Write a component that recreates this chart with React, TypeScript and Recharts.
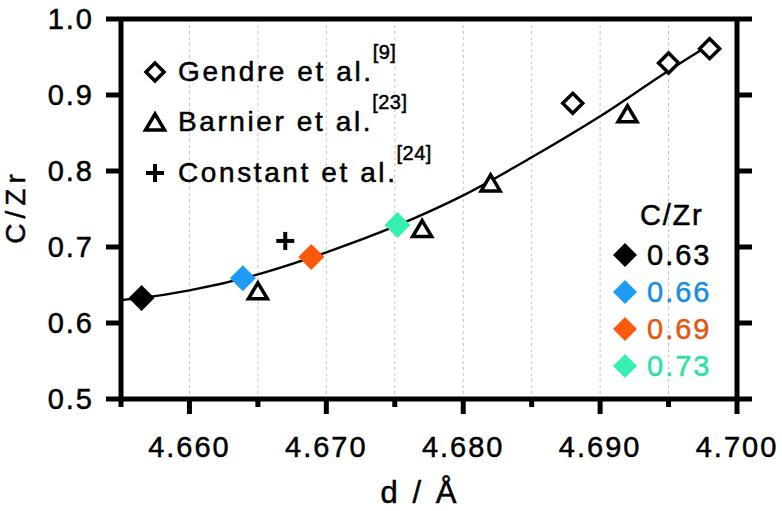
import React from 'react'
import { ComposedChart, Line, Scatter, XAxis, YAxis, CartesianGrid } from 'recharts'

// fitted curve
const fitD = [4.655, 4.6565, 4.66, 4.665, 4.67, 4.675, 4.68, 4.685, 4.69, 4.695, 4.698]
const fitCZr = [0.63, 0.633, 0.643, 0.664, 0.693, 0.727, 0.768, 0.818, 0.872, 0.932, 0.966]

// this work, one point per C/Zr
const sampleD = [4.6565, 4.6639, 4.6689, 4.6752]
const sampleCZr = [0.633, 0.659, 0.687, 0.729]
const sampleLabels = ['0.63', '0.66', '0.69', '0.73']

// literature
const gendreD = [4.688, 4.695, 4.698]
const gendreCZr = [0.889, 0.942, 0.961]
const barnierD = [4.665, 4.677, 4.682, 4.692]
const barnierCZr = [0.641, 0.723, 0.783, 0.874]
const constantD = [4.667]
const constantCZr = [0.708]

const xTicks = [4.655, 4.66, 4.665, 4.67, 4.675, 4.68, 4.685, 4.69, 4.695, 4.7]
const yTicks = [0.5, 0.6, 0.7, 0.8, 0.9, 1.0]

const sampleColors = ['#000000', '#1f9bf3', '#fb5a0c', '#36efb3']
const sampleTextColors = ['#000000', '#1a8ce6', '#e6560f', '#2fe0a6']

const FONT = '"Liberation Sans", Arial, Helvetica, sans-serif'
const AXIS_W = 5
const heavy = { WebkitTextStroke: '0.5px currentColor' } as React.CSSProperties

const rows = (xs: number[], ys: number[]) => xs.map((x, i) => ({ x, y: ys[i] }))
const isMajorX = (v: number) => Math.round(v * 1000) % 10 === 0

function BottomTick(props: any) {
  const { x, y, payload } = props
  const major = isMajorX(payload.value)
  return (
    <g>
      <line x1={x} x2={x} y1={y} y2={y + (major ? 15 : 8)} stroke="#000" strokeWidth={AXIS_W} />
      {major && (
        <text x={x} y={y + 58} textAnchor="middle" fontSize={29} fontFamily={FONT} letterSpacing={2} fill="#000" stroke="#000" strokeWidth={0.5}>
          {payload.value.toFixed(3)}
        </text>
      )}
    </g>
  )
}

function TopTick(props: any) {
  const { x, y, payload } = props
  const major = isMajorX(payload.value)
  return <line x1={x} x2={x} y1={y} y2={y - (major ? 15 : 8)} stroke="#000" strokeWidth={AXIS_W} />
}

function LeftTick(props: any) {
  const { x, y, payload } = props
  return (
    <g>
      <line x1={x} x2={x - 15} y1={y} y2={y} stroke="#000" strokeWidth={AXIS_W} />
      <text x={x - 27} y={y} dy="0.36em" textAnchor="end" fontSize={29} fontFamily={FONT} letterSpacing={2} fill="#000" stroke="#000" strokeWidth={0.5}>
        {payload.value.toFixed(1)}
      </text>
    </g>
  )
}

function RightTick(props: any) {
  const { x, y } = props
  return <line x1={x} x2={x + 15} y1={y} y2={y} stroke="#000" strokeWidth={AXIS_W} />
}

function FilledDiamond({ cx, cy, fill, r = 13 }: any) {
  return <polygon points={`${cx},${cy - r} ${cx + r},${cy} ${cx},${cy + r} ${cx - r},${cy}`} fill={fill} />
}

function OpenDiamond({ cx, cy, r = 10 }: any) {
  return (
    <polygon
      points={`${cx},${cy - r} ${cx + r},${cy} ${cx},${cy + r} ${cx - r},${cy}`}
      fill="#fff"
      stroke="#000"
      strokeWidth={3.5}
    />
  )
}

function OpenTriangle({ cx, cy }: any) {
  return (
    <polygon
      points={`${cx},${cy - 9} ${cx + 9.5},${cy + 7} ${cx - 9.5},${cy + 7}`}
      fill="#fff"
      stroke="#000"
      strokeWidth={3.5}
      strokeLinejoin="miter"
    />
  )
}

function Plus({ cx, cy }: any) {
  return (
    <g stroke="#000" strokeWidth={4}>
      <line x1={cx - 9} x2={cx + 9} y1={cy} y2={cy} />
      <line x1={cx} x2={cx} y1={cy - 9} y2={cy + 9} />
    </g>
  )
}

function LegendIcon({ kind, color }: { kind: string; color?: string }) {
  return (
    <svg width={28} height={28} style={{ display: 'block' }}>
      {kind === 'diamond' && <OpenDiamond cx={14} cy={14} r={9} />}
      {kind === 'triangle' && <OpenTriangle cx={14} cy={15} />}
      {kind === 'plus' && <Plus cx={14} cy={14} />}
      {kind === 'filled' && <FilledDiamond cx={14} cy={14} r={12} fill={color} />}
    </svg>
  )
}

const refLegend = [
  { kind: 'diamond', name: 'Gendre et al.', ref: '[9]', top: 72 },
  { kind: 'triangle', name: 'Barnier et al.', ref: '[23]', top: 122 },
  { kind: 'plus', name: 'Constant et al.', ref: '[24]', top: 173 },
]

export default function App() {
  const fitRows = rows(fitD, fitCZr)
  const samples = sampleD.map((x, i) => ({ x, y: sampleCZr[i], i }))

  return (
    <div style={{ position: 'absolute', left: 0, top: 0, width: 782, height: 511, background: '#fff', fontFamily: FONT }}>
      <ComposedChart width={782} height={511} margin={{ top: 0, right: 0, bottom: 0, left: 0 }}>
        <CartesianGrid vertical horizontal={false} stroke="#c4c4c4" strokeDasharray="3 3" />
        <XAxis
          dataKey="x"
          type="number"
          domain={[4.655, 4.7]}
          ticks={xTicks}
          interval={0}
          height={112}
          tickSize={0}
          tickMargin={0}
          tickLine={false}
          tick={BottomTick}
          axisLine={{ stroke: '#000', strokeWidth: AXIS_W }}
          allowDataOverflow
        />
        <XAxis
          xAxisId="top"
          orientation="top"
          type="number"
          domain={[4.655, 4.7]}
          ticks={xTicks}
          interval={0}
          height={19}
          tickSize={0}
          tickMargin={0}
          tickLine={false}
          tick={TopTick}
          axisLine={{ stroke: '#000', strokeWidth: AXIS_W }}
          allowDataOverflow
        />
        <YAxis
          dataKey="y"
          type="number"
          domain={[0.5, 1.0]}
          ticks={yTicks}
          interval={0}
          width={121}
          tickSize={0}
          tickMargin={0}
          tickLine={false}
          tick={LeftTick}
          axisLine={{ stroke: '#000', strokeWidth: AXIS_W }}
          allowDataOverflow
        />
        <YAxis
          yAxisId="right"
          orientation="right"
          type="number"
          domain={[0.5, 1.0]}
          ticks={yTicks}
          interval={0}
          width={45}
          tickSize={0}
          tickMargin={0}
          tickLine={false}
          tick={RightTick}
          axisLine={{ stroke: '#000', strokeWidth: AXIS_W }}
          allowDataOverflow
        />
        <Line data={fitRows} dataKey="y" type="monotone" stroke="#000" strokeWidth={2.4} dot={false} isAnimationActive={false} />
        <Scatter data={rows(gendreD, gendreCZr)} dataKey="y" shape={(p: any) => <OpenDiamond cx={p.cx} cy={p.cy} />} isAnimationActive={false} />
        <Scatter data={rows(barnierD, barnierCZr)} dataKey="y" shape={(p: any) => <OpenTriangle cx={p.cx} cy={p.cy} />} isAnimationActive={false} />
        <Scatter data={rows(constantD, constantCZr)} dataKey="y" shape={(p: any) => <Plus cx={p.cx} cy={p.cy} />} isAnimationActive={false} />
        <Scatter
          data={samples}
          dataKey="y"
          shape={(p: any) => <FilledDiamond cx={p.cx} cy={p.cy} fill={sampleColors[p.payload.i]} />}
          isAnimationActive={false}
        />
      </ComposedChart>

      {/* literature legend */}
      {refLegend.map((r) => (
        <div key={r.name} style={{ position: 'absolute', left: 141, top: r.top - 15, height: 30, display: 'flex', alignItems: 'center' }}>
          <LegendIcon kind={r.kind} />
          <span style={{ ...heavy, fontSize: 28, letterSpacing: 2.6, marginLeft: 9, lineHeight: '30px' }}>{r.name}</span>
          <span style={{ ...heavy, fontSize: 20, position: 'relative', top: -20, marginLeft: -1, letterSpacing: 0.5 }}>{r.ref}</span>
        </div>
      ))}

      {/* sample legend */}
      <div style={{ ...heavy, position: 'absolute', left: 640, top: 199, fontSize: 29, letterSpacing: 1.8, lineHeight: '32px' }}>C/Zr</div>
      {sampleLabels.map((lab, i) => (
        <div key={lab} style={{ position: 'absolute', left: 611, top: 240 + i * 37, height: 30, display: 'flex', alignItems: 'center' }}>
          <LegendIcon kind="filled" color={sampleColors[i]} />
          <span style={{ ...heavy, fontSize: 29, letterSpacing: 2, marginLeft: 8, color: sampleTextColors[i], lineHeight: '30px' }}>{lab}</span>
        </div>
      ))}

      {/* axis titles */}
      <div
        style={{
          ...heavy,
          position: 'absolute',
          left: 16,
          top: 209,
          transform: 'translate(-50%, -50%) rotate(-90deg)',
          fontSize: 28,
          letterSpacing: 5,
          paddingLeft: 5,
          whiteSpace: 'nowrap',
        }}
      >
        C/Zr
      </div>
      <div
        style={{
          ...heavy,
          position: 'absolute',
          left: 420,
          top: 476,
          transform: 'translateX(-50%)',
          fontSize: 31,
          lineHeight: '34px',
          letterSpacing: 3,
          whiteSpace: 'nowrap',
        }}
      >
        d / Å
      </div>
    </div>
  )
}
